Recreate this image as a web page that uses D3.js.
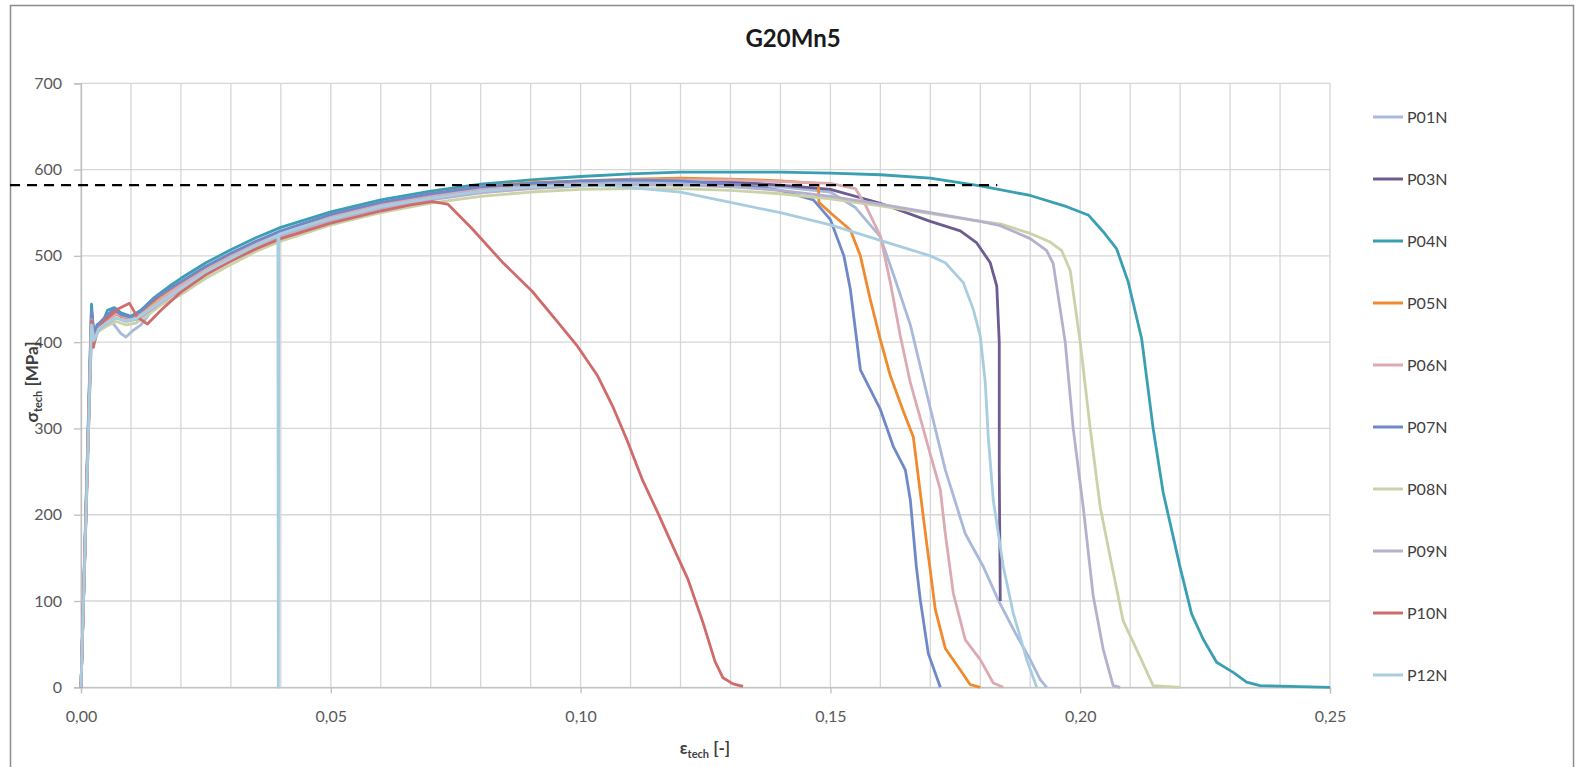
<!DOCTYPE html>
<html>
<head>
<meta charset="utf-8">
<script src="https://cdn.jsdelivr.net/npm/d3@7"></script>
<style>
  html, body { margin: 0; padding: 0; background: #ffffff; }
  svg { display: block; font-family: Lato, "Open Sans", sans-serif; }
</style>
</head>
<body>
<svg id="chart" width="1577" height="767"></svg>
<script>
// ---------------- DATA ----------------
const title = "G20Mn5";
const seriesNames = ["P01N","P03N","P04N","P05N","P06N","P07N","P08N","P09N","P10N","P12N"];
const seriesColors = ["#a9b9da","#6d5c90","#3a9fb3","#ef8a2e","#dcaab2","#6f88c8","#cad3a8","#b7b0cc","#cf6b6a","#a9cde0"];
const xTicks = [0, 0.05, 0.10, 0.15, 0.20, 0.25];
const yTicks = [0, 100, 200, 300, 400, 500, 600, 700];
const referenceLevel = 582;              // dashed horizontal line [MPa]
const referenceStrainRange = [-0.0142, 0.1834];

const P01N = [[0,0],[0.0021,425],[0.0026,405],[0.0032,415],[0.0045,418],[0.006,425],[0.008,410],[0.009,406],[0.0103,413],[0.012,420],[0.014,435],[0.017,450],[0.02,462],[0.025,481],[0.03,497],[0.035,511],[0.04,523],[0.05,542],[0.06,556],[0.07,567],[0.08,575],[0.09,580],[0.10,583],[0.11,585],[0.12,585],[0.13,583],[0.14,580],[0.15,574],[0.155,556],[0.16,522],[0.163,472],[0.166,420],[0.1696,333],[0.173,252],[0.177,178],[0.1806,140],[0.1836,101],[0.187,63],[0.19,32],[0.192,9],[0.1933,0]];
const P03N = [[0,0],[0.0022,432],[0.0027,400],[0.0035,418],[0.005,428],[0.0065,436],[0.008,430],[0.01,428],[0.012,433],[0.015,450],[0.02,467],[0.025,485],[0.03,500],[0.035,514],[0.04,526],[0.05,545],[0.06,559],[0.07,570],[0.08,578],[0.09,583],[0.10,586],[0.11,588],[0.12,588],[0.13,586],[0.14,582],[0.15,577],[0.16,561],[0.17,540],[0.176,529],[0.1793,515],[0.182,492],[0.1833,465],[0.1838,400],[0.1838,250],[0.1840,100]];
const P04N = [[0,0],[0.0021,444],[0.0026,405],[0.0032,420],[0.0045,425],[0.0053,437],[0.0067,440],[0.008,434],[0.01,430],[0.012,437],[0.0147,452],[0.018,466],[0.02,474],[0.025,492],[0.03,507],[0.035,521],[0.04,533],[0.05,551],[0.06,565],[0.07,575],[0.08,583],[0.09,588],[0.10,592],[0.11,595],[0.12,597],[0.13,597],[0.14,597],[0.15,596],[0.16,594],[0.17,590],[0.18,581],[0.19,570],[0.1973,557],[0.2017,547],[0.2046,528],[0.2073,508],[0.2096,470],[0.2123,404],[0.2146,300],[0.2166,226],[0.22,139],[0.2223,85],[0.2246,56],[0.2273,29],[0.2307,17],[0.2333,6],[0.236,2],[0.25,0]];
const P05N = [[0,0],[0.0021,430],[0.0026,402],[0.0033,418],[0.005,426],[0.007,432],[0.009,428],[0.011,430],[0.013,438],[0.016,452],[0.02,468],[0.025,486],[0.03,502],[0.035,516],[0.04,528],[0.05,547],[0.06,561],[0.07,572],[0.08,580],[0.09,585],[0.10,587],[0.11,589],[0.12,590],[0.13,589],[0.14,587],[0.1476,584],[0.1477,562],[0.15,550],[0.154,530],[0.156,500],[0.158,449],[0.16,403],[0.162,361],[0.1646,320],[0.1666,290],[0.168,225],[0.1692,170],[0.17,135],[0.171,90],[0.173,45],[0.176,20],[0.178,3],[0.18,0]];
const P06N = [[0,0],[0.0021,428],[0.0026,400],[0.0034,416],[0.005,424],[0.007,433],[0.009,429],[0.011,428],[0.013,436],[0.016,450],[0.02,466],[0.025,484],[0.03,500],[0.035,514],[0.04,526],[0.05,545],[0.06,559],[0.07,570],[0.08,578],[0.09,583],[0.10,586],[0.11,588],[0.12,588],[0.13,588],[0.14,586],[0.15,584],[0.155,578],[0.157,559],[0.16,523],[0.162,469],[0.164,407],[0.166,353],[0.1676,320],[0.17,270],[0.172,229],[0.173,178],[0.1746,109],[0.177,55],[0.18,32],[0.1826,5],[0.1846,0]];
const P07N = [[0,0],[0.0021,438],[0.0026,404],[0.0033,420],[0.005,430],[0.0065,438],[0.008,432],[0.01,429],[0.012,436],[0.015,452],[0.02,470],[0.025,488],[0.03,503],[0.035,517],[0.04,529],[0.05,548],[0.06,562],[0.07,572],[0.08,580],[0.09,584],[0.10,587],[0.11,588],[0.12,587],[0.13,583],[0.135,580],[0.14,576],[0.1466,565],[0.15,542],[0.1527,500],[0.154,461],[0.156,368],[0.158,345],[0.16,322],[0.1626,279],[0.165,252],[0.166,217],[0.1672,140],[0.168,101],[0.1696,39],[0.172,0]];
const P08N = [[0,0],[0.0021,422],[0.0026,400],[0.0034,412],[0.005,418],[0.007,424],[0.009,420],[0.011,422],[0.013,430],[0.016,443],[0.02,455],[0.025,474],[0.03,490],[0.035,505],[0.04,517],[0.05,536],[0.06,550],[0.07,561],[0.08,569],[0.09,574],[0.10,577],[0.11,578],[0.12,578],[0.13,576],[0.14,572],[0.15,566],[0.16,558],[0.17,549],[0.18,540],[0.184,537],[0.19,526],[0.194,516],[0.1963,506],[0.198,483],[0.2,400],[0.202,300],[0.204,209],[0.206,151],[0.2086,77],[0.212,35],[0.2146,2],[0.22,0]];
const P09N = [[0,0],[0.0021,426],[0.0026,401],[0.0034,414],[0.005,421],[0.007,428],[0.009,424],[0.011,426],[0.013,433],[0.016,446],[0.02,460],[0.025,479],[0.03,494],[0.035,509],[0.04,521],[0.05,540],[0.06,554],[0.07,565],[0.08,573],[0.09,578],[0.10,581],[0.11,582],[0.12,582],[0.13,580],[0.14,576],[0.15,569],[0.16,560],[0.17,550],[0.18,540],[0.184,535],[0.19,520],[0.1933,506],[0.1946,491],[0.197,400],[0.1986,300],[0.2006,209],[0.2026,106],[0.2046,44],[0.2066,2],[0.208,0]];
const P10N = [[0,0],[0.0021,425],[0.0025,394],[0.003,410],[0.0047,425],[0.0073,438],[0.0097,445],[0.0113,429],[0.0133,421],[0.016,437],[0.02,458],[0.025,478],[0.03,494],[0.035,508],[0.04,520],[0.05,538],[0.06,552],[0.066,559],[0.0703,563],[0.0734,560],[0.0782,532],[0.0843,493],[0.0903,459],[0.0953,424],[0.0994,395],[0.1034,361],[0.1064,326],[0.1094,285],[0.1124,240],[0.1154,203],[0.1185,163],[0.1215,125],[0.1245,75],[0.1269,30],[0.1285,11],[0.1305,4],[0.1325,1]];
const P12N = [[0,0],[0.0021,420],[0.0026,402],[0.0035,415],[0.005,422],[0.007,428],[0.009,425],[0.011,427],[0.013,435],[0.016,447],[0.02,462],[0.025,482],[0.03,497],[0.035,512],[0.0394,524],[0.0395,0],[0.0396,525],[0.045,535],[0.05,543],[0.06,557],[0.07,567],[0.08,575],[0.09,580],[0.10,582],[0.1062,581],[0.12,574],[0.13,562],[0.14,550],[0.15,536],[0.16,518],[0.17,500],[0.173,492],[0.1766,469],[0.1786,438],[0.18,407],[0.181,353],[0.1816,290],[0.1826,217],[0.1846,140],[0.1866,86],[0.1893,32],[0.1913,0]];
const seriesData = [P01N,P03N,P04N,P05N,P06N,P07N,P08N,P09N,P10N,P12N];

// ---------------- LAYOUT ----------------
const W = 1577, H = 767;
const plot = { left: 81, right: 1330, top: 83.3, bottom: 687.3 };
const svg = d3.select("#chart");

const x = d3.scaleLinear().domain([0, 0.25]).range([plot.left, plot.right]);
const y = d3.scaleLinear().domain([0, 700]).range([plot.bottom, plot.top]);

// outer chart border
svg.append("rect").attr("x", 10.5).attr("y", 5.5).attr("width", W - 14).attr("height", H + 10)
  .attr("fill", "#fff").attr("stroke", "#8c8c8c").attr("stroke-width", 1.5);

// gridlines
const gx = d3.range(0, 0.2501, 0.01);
svg.append("g").selectAll("line").data(gx).join("line")
  .attr("x1", d => x(d)).attr("x2", d => x(d))
  .attr("y1", plot.top).attr("y2", plot.bottom)
  .attr("stroke", "#d6d6d6").attr("stroke-width", 1.3);
svg.append("g").selectAll("line").data(yTicks).join("line")
  .attr("x1", plot.left).attr("x2", plot.right)
  .attr("y1", d => y(d)).attr("y2", d => y(d))
  .attr("stroke", "#d6d6d6").attr("stroke-width", 1.3);

// axes
const fmtX = d => d3.format(".2f")(d).replace(".", ",");
const xAxis = d3.axisBottom(x).tickValues(xTicks).tickFormat(fmtX).tickSize(6).tickPadding(17);
const yAxis = d3.axisLeft(y).tickValues(yTicks).tickFormat(d3.format("d")).tickSize(7).tickPadding(12);
const gxA = svg.append("g").attr("transform", `translate(0,${plot.bottom})`).call(xAxis);
const gyA = svg.append("g").attr("transform", `translate(${plot.left},0)`).call(yAxis);
[gxA, gyA].forEach(g => {
  g.select(".domain").attr("stroke", "#bfbfbf").attr("stroke-width", 1.3);
  g.selectAll(".tick line").attr("stroke", "#bfbfbf").attr("stroke-width", 1.3);
  g.selectAll("text").attr("fill", "#595959").style("font-family", "Lato, sans-serif").style("font-size", "16px");
});

// series lines
const line = d3.line().x(d => x(d[0])).y(d => y(d[1]));
svg.append("g").selectAll("path").data(seriesData).join("path")
  .attr("d", d => line(d))
  .attr("fill", "none")
  .attr("stroke", (d, i) => seriesColors[i])
  .attr("stroke-width", 2.8)
  .attr("stroke-linejoin", "round");

// dashed reference line
svg.append("line")
  .attr("x1", x(referenceStrainRange[0])).attr("x2", x(referenceStrainRange[1]))
  .attr("y1", y(referenceLevel)).attr("y2", y(referenceLevel))
  .attr("stroke", "#000").attr("stroke-width", 2.4).attr("stroke-dasharray", "10,7");

// title
svg.append("text").attr("x", 793).attr("y", 47).attr("text-anchor", "middle")
  .style("font-family", "Lato, sans-serif").style("font-weight", "bold").style("font-size", "24px")
  .attr("fill", "#1a1a1a").text(title);

// axis titles
const yt = svg.append("text").attr("transform", "translate(38,382) rotate(-90)")
  .attr("text-anchor", "middle").style("font-family", "Lato, sans-serif")
  .style("font-weight", "bold").style("font-size", "17px").attr("fill", "#404040");
yt.append("tspan").text("σ");
yt.append("tspan").attr("dy", 4).style("font-size", "11px").text("tech");
yt.append("tspan").attr("dy", -4).text(" [MPa]");

const xt = svg.append("text").attr("x", 705).attr("y", 754)
  .attr("text-anchor", "middle").style("font-family", "Lato, sans-serif")
  .style("font-weight", "bold").style("font-size", "17px").attr("fill", "#404040");
xt.append("tspan").text("ε");
xt.append("tspan").attr("dy", 4).style("font-size", "11px").text("tech");
xt.append("tspan").attr("dy", -4).text(" [-]");

// legend
const legY0 = 117, legStep = 62;
const leg = svg.append("g").selectAll("g").data(seriesNames).join("g")
  .attr("transform", (d, i) => `translate(1373,${legY0 + i * legStep})`);
leg.append("line").attr("x1", 0).attr("x2", 30).attr("y1", 0).attr("y2", 0)
  .attr("stroke", (d, i) => seriesColors[i]).attr("stroke-width", 3);
leg.append("text").attr("x", 34).attr("y", 6)
  .style("font-family", "Lato, sans-serif").style("font-size", "16px")
  .attr("fill", "#404040").text(d => d);
</script>
</body>
</html>
